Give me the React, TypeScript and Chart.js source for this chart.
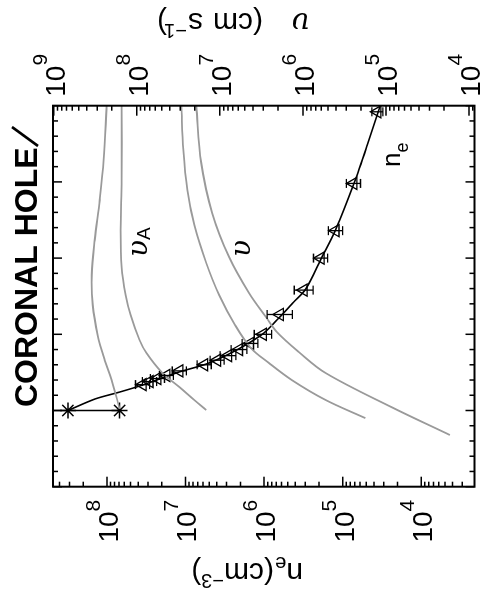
import React, { useEffect, useRef } from "react";
import { Chart, registerables } from "chart.js";
Chart.register(...registerables);

// Horizontal axis of the original (unrotated) plot: heliocentric distance R/Rsun
const R_MIN = 0.5;
const R_MAX = 3.0;
const R_MAJOR = [0.5, 1.0, 1.5, 2.0, 2.5, 3.0];

// Left axis: electron density n_e (cm^-3), log
const NE_MIN = 2.1e3;
const NE_MAX = 4.85e8;
const NE_TICK_EXP = [4, 5, 6, 7, 8];

// Right axis: speed v (cm s^-1), log
const V_MIN = 8.6e3;
const V_MAX = 1.02e9;
const V_TICK_EXP = [4, 5, 6, 7, 8, 9];

// Base values at the surface (asterisks)
const STAR_R = [1.0, 1.0];
const STAR_LOGNE = [8.496, 7.838];

// Range bar through the asterisks
const BAR_R = [1.0, 1.0];
const BAR_LOGNE = [7.838, 9.3];

// Observed densities (triangles) with error (dex)
const OBS_R = [1.17, 1.19, 1.21, 1.23, 1.26, 1.30, 1.33, 1.36, 1.40, 1.44, 1.50, 1.63, 1.79, 2.00, 2.18, 2.49, 2.96];
const OBS_LOGNE = [7.546, 7.458, 7.357, 7.243, 7.078, 6.762, 6.597, 6.458, 6.319, 6.179, 6.015, 5.800, 5.496, 5.281, 5.091, 4.863, 4.559];
const OBS_ERR = [0.09, 0.09, 0.09, 0.09, 0.09, 0.09, 0.09, 0.10, 0.10, 0.10, 0.11, 0.16, 0.12, 0.09, 0.09, 0.09, 0.07];

// Fitted density curve
const FIT_R = [1.0, 1.075, 1.121, 1.167, 1.207, 1.253, 1.305, 1.371, 1.443, 1.509, 1.607, 1.712, 1.797, 2.001, 2.184, 2.499, 2.742, 3.0];
const FIT_LOGNE = [8.496, 8.154, 7.838, 7.546, 7.331, 7.078, 6.736, 6.445, 6.192, 6.002, 5.812, 5.622, 5.470, 5.268, 5.091, 4.850, 4.686, 4.521];

// Alfven speed curves (v_A)
const VA1_R = [1.01, 1.200, 1.331, 1.495, 1.692, 1.889, 2.119, 2.381, 2.644, 3.0];
const VA1_LOGV = [8.206, 8.302, 8.386, 8.470, 8.530, 8.542, 8.506, 8.446, 8.398, 8.362];
const VA2_R = [1.003, 1.069, 1.154, 1.246, 1.377, 1.463, 1.627, 1.758, 1.942, 2.184, 2.512, 3.0];
const VA2_LOGV = [7.164, 7.308, 7.488, 7.691, 7.883, 7.967, 8.074, 8.134, 8.182, 8.194, 8.182, 8.182];

// Flow speed curves (v)
const V1_R = [0.95, 1.069, 1.200, 1.312, 1.410, 1.561, 1.758, 1.968, 2.217, 2.447, 2.709, 3.0];
const V1_LOGV = [5.248, 5.727, 6.134, 6.410, 6.626, 6.817, 7.009, 7.164, 7.308, 7.392, 7.440, 7.464];
const V2_R = [0.839, 1.023, 1.246, 1.384, 1.515, 1.614, 1.771, 2.007, 2.296, 2.624, 3.0];
const V2_LOGV = [4.230, 4.937, 5.727, 6.050, 6.314, 6.446, 6.649, 6.889, 7.092, 7.224, 7.284];

const FONT = '"Liberation Sans", Arial, Helvetica, sans-serif';
const GREEK = '"DejaVu Serif", serif';

const pts = (r: number[], lg: number[]) => r.map((x, i) => ({ x, y: Math.pow(10, lg[i]) }));

type Seg = { t: string; size: number; dy?: number; at?: number; greek?: boolean };

function drawSegs(ctx: CanvasRenderingContext2D, segs: Seg[], x0: number, y0: number) {
  let x = x0;
  for (const s of segs) {
    ctx.font = s.greek ? `italic ${s.size}px ${GREEK}` : `${s.size}px ${FONT}`;
    if (s.at !== undefined) x = x0 + s.at;
    ctx.fillText(s.t, x, y0 + (s.dy || 0));
    x += ctx.measureText(s.t).width;
  }
}

function powLabel(ctx: CanvasRenderingContext2D, exp: number, py: number, edge: number, alignRight: boolean) {
  ctx.font = `28px ${FONT}`;
  const wb = ctx.measureText("10").width;
  ctx.font = `21px ${FONT}`;
  const ws = ctx.measureText(String(exp)).width;
  const x0 = alignRight ? edge - wb - ws : edge;
  ctx.font = `28px ${FONT}`;
  ctx.fillText("10", x0, py + 11);
  ctx.font = `21px ${FONT}`;
  ctx.fillText(String(exp), x0 + wb, py - 7);
}

const framePlugin = {
  id: "framePlugin",
  afterDatasetsDraw(chart: any) {
    const { ctx, chartArea: a, scales } = chart;
    const xs = scales.x, ys = scales.y;
    ctx.save();
    ctx.beginPath();
    ctx.rect(a.left, a.top, a.right - a.left, a.bottom - a.top);
    ctx.clip();
    ctx.strokeStyle = "#000";
    ctx.lineWidth = 1.3;
    for (let i = 0; i < OBS_R.length; i++) {
      const px = xs.getPixelForValue(OBS_R[i]);
      const lo = ys.getPixelForValue(Math.pow(10, OBS_LOGNE[i] - OBS_ERR[i]));
      const hi = ys.getPixelForValue(Math.pow(10, OBS_LOGNE[i] + OBS_ERR[i]));
      ctx.beginPath();
      ctx.moveTo(px, lo); ctx.lineTo(px, hi);
      ctx.moveTo(px - 4.5, lo); ctx.lineTo(px + 4.5, lo);
      ctx.moveTo(px - 4.5, hi); ctx.lineTo(px + 4.5, hi);
      ctx.stroke();
    }
    ctx.restore();
  },
  afterDraw(chart: any) {
    const { ctx, chartArea: a, scales } = chart;
    const xs = scales.x, ys = scales.y, y2 = scales.y2;
    ctx.save();
    ctx.strokeStyle = "#000";
    ctx.fillStyle = "#000";
    // frame
    ctx.lineWidth = 2;
    ctx.strokeRect(a.left, a.top, a.right - a.left, a.bottom - a.top);
    // distance ticks (inward, top & bottom)
    ctx.lineWidth = 1.5;
    ctx.beginPath();
    for (let k = 0; k <= Math.round((R_MAX - R_MIN) / 0.1); k++) {
      const v = R_MIN + k * 0.1;
      const major = R_MAJOR.some((m) => Math.abs(m - v) < 1e-6);
      const len = major ? 9 : 5;
      const px = xs.getPixelForValue(v);
      ctx.moveTo(px, a.top); ctx.lineTo(px, a.top + len);
      ctx.moveTo(px, a.bottom); ctx.lineTo(px, a.bottom - len);
    }
    // log ticks
    for (let d = 3; d <= 9; d++) {
      for (let m = 1; m <= 9; m++) {
        const val = m * Math.pow(10, d);
        const len = m === 1 ? 10 : 5;
        if (val >= NE_MIN && val <= NE_MAX) {
          const py = ys.getPixelForValue(val);
          ctx.moveTo(a.left, py); ctx.lineTo(a.left + len, py);
        }
        if (val >= V_MIN && val <= V_MAX) {
          const py = y2.getPixelForValue(val);
          ctx.moveTo(a.right, py); ctx.lineTo(a.right - len, py);
        }
      }
    }
    ctx.stroke();

    // tick labels
    ctx.textBaseline = "alphabetic";
    ctx.textAlign = "left";
    for (const e of NE_TICK_EXP) powLabel(ctx, e, ys.getPixelForValue(Math.pow(10, e)), a.left - 13, true);
    for (const e of V_TICK_EXP) powLabel(ctx, e, y2.getPixelForValue(Math.pow(10, e)), a.right + 9, false);

    // left axis title n_e(cm^-3), rotated
    ctx.save();
    ctx.translate(37, 303);
    ctx.rotate(-Math.PI / 2);
    drawSegs(ctx, [
      { t: "n", size: 30 },
      { t: "e", size: 20, dy: 6 },
      { t: "(cm", size: 30, at: 29 },
      { t: "\u22123", size: 20, dy: -11 },
      { t: ")", size: 30 },
    ], 0, 0);
    ctx.restore();

    // right axis title v (cm s^-1), rotated
    ctx.save();
    ctx.translate(587, 310);
    ctx.rotate(-Math.PI / 2);
    drawSegs(ctx, [
      { t: "\u03c5", size: 30, at: 0, greek: true },
      { t: "(cm", size: 30, at: 47 },
      { t: "s", size: 30, at: 107 },
      { t: "\u22121", size: 20, dy: -11, at: 123 },
      { t: ")", size: 30, at: 143 },
    ], 0, 0);
    ctx.restore();

    // title
    ctx.font = `bold 32px ${FONT}`;
    ctx.fillText("CORONAL HOLE", 193, 37);
    ctx.lineWidth = 2.8;
    ctx.beginPath();
    ctx.moveTo(454, 38);
    ctx.lineTo(473, 12);
    ctx.stroke();

    // curve labels
    drawSegs(ctx, [{ t: "\u03c5", size: 28, greek: true }, { t: "A", size: 19, dy: 3 }], 343, 147);
    drawSegs(ctx, [{ t: "\u03c5", size: 28, greek: true }], 343, 250);
    drawSegs(ctx, [{ t: "n", size: 26 }, { t: "e", size: 18, dy: 8 }], 433, 400);
    ctx.restore();
  },
};

export default function App() {
  const ref = useRef<HTMLCanvasElement>(null);
  useEffect(() => {
    const canvas = ref.current!;
    const gray = {
      showLine: true,
      borderColor: "#9a9a9a",
      borderWidth: 1.8,
      pointRadius: 0,
      tension: 0.35,
      fill: false,
      yAxisID: "y2",
    };
    const chart = new Chart(canvas, {
      type: "scatter",
      data: {
        datasets: [
          { ...gray, data: pts(VA1_R, VA1_LOGV) },
          { ...gray, data: pts(VA2_R, VA2_LOGV) },
          { ...gray, data: pts(V1_R, V1_LOGV) },
          { ...gray, data: pts(V2_R, V2_LOGV) },
          {
            data: pts(FIT_R, FIT_LOGNE), showLine: true, borderColor: "#000", borderWidth: 1.6,
            pointRadius: 0, tension: 0.3, yAxisID: "y",
          },
          {
            data: pts(BAR_R, BAR_LOGNE), showLine: true, borderColor: "#000", borderWidth: 1.5,
            pointRadius: 0, yAxisID: "y",
          },
          {
            data: pts(OBS_R, OBS_LOGNE), showLine: false, pointStyle: "triangle", pointRadius: 7,
            borderColor: "#000", borderWidth: 1.3, backgroundColor: "rgba(0,0,0,0)", yAxisID: "y",
          },
          {
            data: pts(STAR_R, STAR_LOGNE), showLine: false, pointStyle: "star", pointRadius: 8,
            borderColor: "#000", borderWidth: 1.5, backgroundColor: "rgba(0,0,0,0)", yAxisID: "y",
          },
        ],
      } as any,
      options: {
        animation: false,
        responsive: false,
        devicePixelRatio: 1,
        events: [],
        layout: { padding: { left: 113.3, right: 105.7, top: 53, bottom: 7.3 } },
        plugins: { legend: { display: false }, tooltip: { enabled: false } },
        scales: {
          x: { type: "linear", min: R_MIN, max: R_MAX, display: false },
          y: { type: "logarithmic", min: NE_MIN, max: NE_MAX, display: false, position: "left" },
          y2: { type: "logarithmic", min: V_MIN, max: V_MAX, display: false, position: "right" },
        },
      } as any,
      plugins: [framePlugin],
    });
    return () => chart.destroy();
  }, []);
  return (
    <div style={{ position: "absolute", left: 0, top: 0, width: 484, height: 600, overflow: "hidden", background: "#fff" }}>
      <canvas
        ref={ref}
        width={600}
        height={484}
        style={{
          position: "absolute", left: 0, top: 0, width: 600, height: 484,
          transformOrigin: "0 0", transform: "translateY(600px) rotate(-90deg)",
        }}
      />
    </div>
  );
}
